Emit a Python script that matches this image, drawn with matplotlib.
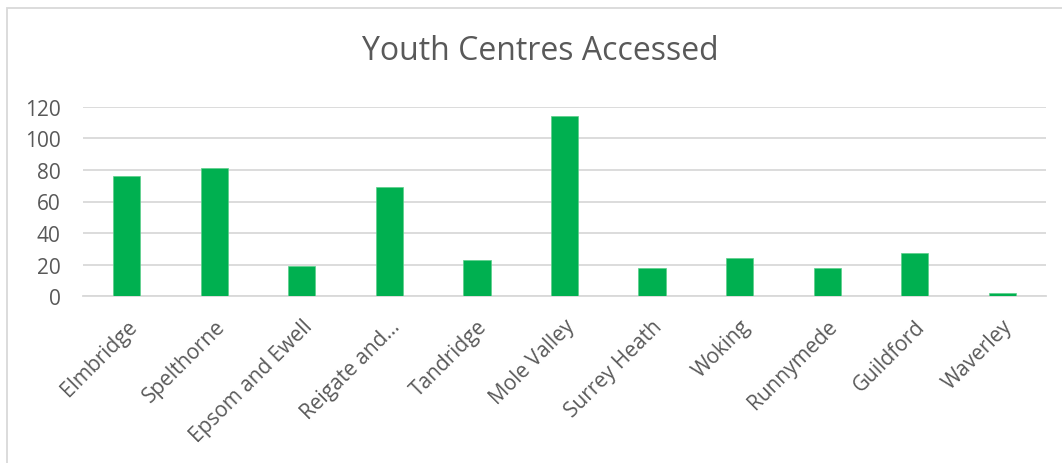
import matplotlib.pyplot as plt
import numpy as np
from matplotlib.patches import Rectangle

plt.rcParams['font.family'] = ['Open Sans', 'DejaVu Sans']

districts = ['Elmbridge', 'Spelthorne', 'Epsom and Ewell', 'Reigate and...',
             'Tandridge', 'Mole Valley', 'Surrey Heath', 'Woking',
             'Runnymede', 'Guildford', 'Waverley']
accessed = [76, 81, 19, 69, 23, 114, 18, 24, 18, 27, 2]
yticks = [0, 20, 40, 60, 80, 100, 120]

text_col = '#595959'
grid_col = '#d9d9d9'
bar_col = '#00b050'

fig = plt.figure(figsize=(10.62, 4.64), dpi=100)

# chart frame, running off the right and bottom edges
fig.patches.append(Rectangle((7 / 1062, -0.1), 1.2, 1.1 - 9 / 464,
                             transform=fig.transFigure, fill=False,
                             edgecolor=grid_col, linewidth=1.3))

ax = fig.add_axes([83 / 1062, 1 - 297 / 464, (1046 - 83) / 1062, (297 - 108) / 464])

x = np.arange(len(districts))
ax.bar(x, accessed, width=0.31, color=bar_col, edgecolor='#5ccf8a',
       linewidth=0.5, zorder=3)

ax.set_xlim(-0.5, len(districts) - 0.5)
ax.set_ylim(0, 120)
ax.set_yticks(yticks)
ax.set_yticklabels([str(t) for t in yticks])
ax.yaxis.grid(True, color=grid_col, linewidth=1.3, zorder=0)
ax.set_axisbelow(True)

ax.set_xticks(x)
ax.set_xticklabels(districts, rotation=45, ha='right', rotation_mode='anchor')

for s in ['top', 'right', 'left']:
    ax.spines[s].set_visible(False)
ax.spines['bottom'].set_color(grid_col)
ax.spines['bottom'].set_linewidth(1.3)

ax.tick_params(axis='y', length=0, pad=16, labelsize=15, labelcolor=text_col)
ax.tick_params(axis='x', length=0, pad=14, labelsize=15, labelcolor=text_col)

fig.text(540 / 1062, 1 - 52 / 464, 'Youth Centres Accessed', ha='center',
         va='center', fontsize=23, color=text_col)

fig.savefig('out.png', dpi=100)
